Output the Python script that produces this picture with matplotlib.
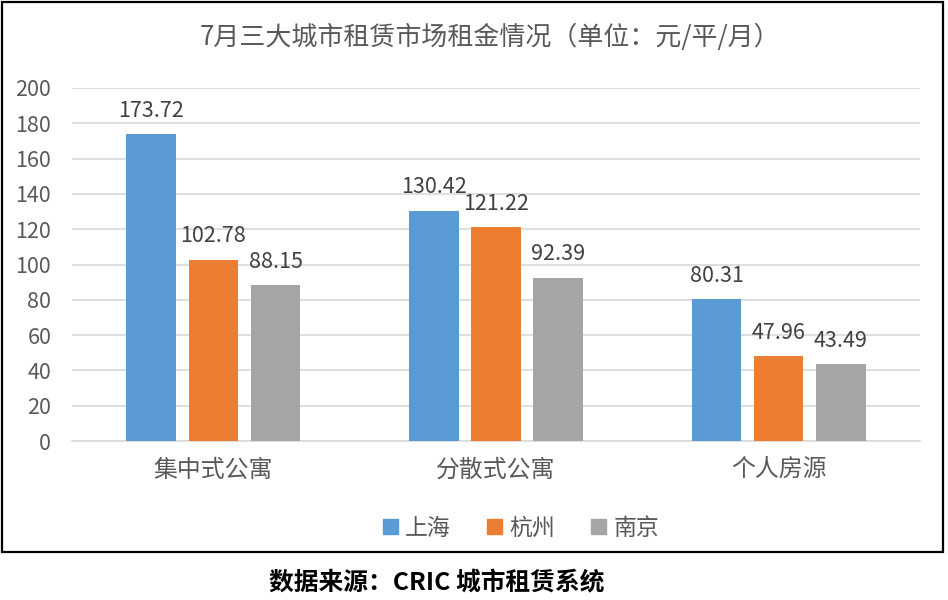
import matplotlib
matplotlib.use("Agg")
import matplotlib.pyplot as plt
import matplotlib.patches as mpatches
import numpy as np

plt.rcParams['font.family'] = ['Noto Sans CJK SC', 'DejaVu Sans']

categories = ['集中式公寓', '分散式公寓', '个人房源']
series_names = ['上海', '杭州', '南京']
shanghai = [173.72, 130.42, 80.31]
hangzhou = [102.78, 121.22, 47.96]
nanjing = [88.15, 92.39, 43.49]
yticks = [0, 20, 40, 60, 80, 100, 120, 140, 160, 180, 200]

title = '7月三大城市租赁市场租金情况（单位：元/平/月）'
source = '数据来源：CRIC 城市租赁系统'

colors = ['#5B9BD5', '#ED7D31', '#A5A5A5']
txt = '#595959'

fig = plt.figure(figsize=(9.48, 6.0), dpi=100)
ax = fig.add_axes([72/948, 1-441/600, (920-72)/948, (441-88)/600])

x = np.arange(len(categories))
width = 0.175
offsets = [-0.22, 0.0, 0.22]
for vals, name, col, off in zip([shanghai, hangzhou, nanjing], series_names, colors, offsets):
    bars = ax.bar(x + off, vals, width, color=col, label=name, zorder=3)
    for b, v in zip(bars, vals):
        ax.annotate(f'{v:.2f}', (b.get_x() + b.get_width()/2, v),
                    xytext=(0, 9), textcoords='offset points',
                    ha='center', va='bottom', fontsize=15.5, color='#404040')

ax.set_xlim(-0.5, 2.5)
ax.set_ylim(0, 200)
ax.set_yticks(yticks)
ax.set_xticks(x)
ax.set_xticklabels(categories, fontsize=17.2, color=txt)
ax.tick_params(axis='y', labelsize=15.5, labelcolor=txt, length=0, pad=15)
ax.tick_params(axis='x', length=0, pad=13)
ax.grid(axis='y', color='#D9D9D9', linewidth=1.2, zorder=0)
for s in ['top', 'right', 'left']:
    ax.spines[s].set_visible(False)
ax.spines['bottom'].set_color('#D9D9D9')
ax.spines['bottom'].set_linewidth(1.2)

fig.text(490/948, 1-37/600, title, ha='center', va='center', fontsize=18.7, color=txt)

handles = [mpatches.Patch(color=c, label=n) for c, n in zip(colors, series_names)]
leg = fig.legend(handles=handles, loc='center', bbox_to_anchor=(521/948, 1-528/600),
                 ncol=3, frameon=False, fontsize=16.5, handlelength=0.65, handleheight=0.65,
                 handletextpad=0.3, columnspacing=1.6)
for t in leg.get_texts():
    t.set_color(txt)

fig.text(437/948, 1-583/600, source, ha='center', va='center', fontsize=17.8,
         fontweight='bold', color='black')

border = mpatches.Rectangle((2/948, 1-552/600), (943-2)/948, (552-2)/600,
                            transform=fig.transFigure, fill=False,
                            edgecolor='black', linewidth=1.6)
fig.patches.append(border)

fig.savefig('out.png', dpi=100)
